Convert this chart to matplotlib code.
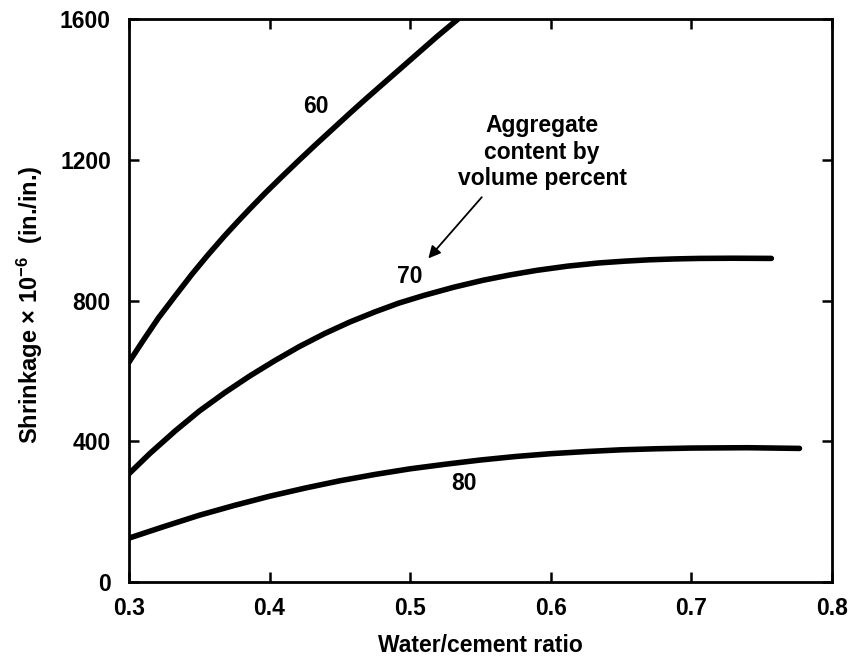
import matplotlib
matplotlib.use('Agg')
import matplotlib.pyplot as plt

# 字体设置
plt.rcParams['font.family'] = ['Liberation Sans', 'DejaVu Sans']
plt.rcParams['font.weight'] = 'bold'
plt.rcParams['axes.labelweight'] = 'bold'
plt.rcParams['mathtext.fontset'] = 'custom'
plt.rcParams['mathtext.rm'] = 'Liberation Sans:bold'
plt.rcParams['mathtext.it'] = 'Liberation Sans:italic:bold'
plt.rcParams['mathtext.bf'] = 'Liberation Sans:bold'

# 数据
wc_60 = [0.300, 0.310, 0.321, 0.333, 0.345, 0.356, 0.368, 0.377, 0.386, 0.397, 0.409,
         0.421, 0.433, 0.445, 0.457, 0.469, 0.481, 0.493, 0.505, 0.519, 0.534]
shr_60 = [625, 686, 751, 814, 876, 929, 984, 1023, 1061, 1106, 1153,
          1199, 1244, 1288, 1332, 1375, 1417, 1459, 1501, 1550, 1600]

wc_70 = [0.300, 0.315, 0.333, 0.350, 0.368, 0.386, 0.404, 0.421, 0.439, 0.457, 0.475,
         0.492, 0.510, 0.531, 0.552, 0.571, 0.590, 0.612, 0.634, 0.652, 0.670, 0.688,
         0.706, 0.730, 0.757]
shr_70 = [308, 366, 430, 486, 538, 586, 630, 669, 706, 739, 768,
          793, 815, 838, 858, 873, 886, 898, 907, 912, 916, 918.5,
          920, 920.5, 920]

wc_80 = [0.300, 0.325, 0.350, 0.375, 0.400, 0.425, 0.450, 0.475, 0.500, 0.525,
         0.550, 0.575, 0.600, 0.625, 0.650, 0.675, 0.700, 0.740, 0.777]
shr_80 = [125, 158, 190, 218, 244, 267, 288, 306, 322, 335,
          347, 357, 365, 371, 376, 379, 381, 382, 380]

curve_labels = ['60', '70', '80']
x_ticks = [0.3, 0.4, 0.5, 0.6, 0.7, 0.8]
y_ticks = [0, 400, 800, 1200, 1600]

fs = 16.5

fig = plt.figure(figsize=(8.54, 6.6), dpi=100)
ax = fig.add_axes([0.151, 0.118, 0.823, 0.853])

for xs, ys in [(wc_60, shr_60), (wc_70, shr_70), (wc_80, shr_80)]:
    ax.plot(xs, ys, color='black', linewidth=4.0, solid_capstyle='round',
            solid_joinstyle='round')

# 曲线标注
ax.text(0.433, 1352, curve_labels[0], fontsize=fs, ha='center', va='center')
ax.text(0.500, 869, curve_labels[1], fontsize=fs, ha='center', va='center')
ax.text(0.538, 281, curve_labels[2], fontsize=fs, ha='center', va='center')

ax.text(0.594, 1222, 'Aggregate\ncontent by\nvolume percent', fontsize=fs,
        ha='center', va='center', linespacing=1.2)
ax.annotate('', xy=(0.513, 920), xytext=(0.551, 1094),
            arrowprops=dict(arrowstyle='-|>', color='black', lw=1.3,
                            mutation_scale=18, shrinkA=0, shrinkB=0))

ax.set_xlim(0.3, 0.8)
ax.set_ylim(0, 1600)
ax.set_xticks(x_ticks)
ax.set_yticks(y_ticks)
ax.set_xticklabels([f'{v:.1f}' for v in x_ticks])
ax.tick_params(direction='in', length=7, width=1.8, top=True, right=True,
               labelsize=fs)
ax.tick_params(axis='x', pad=11)
ax.tick_params(axis='y', pad=13)
for sp in ax.spines.values():
    sp.set_linewidth(2.0)

ax.set_xlabel('Water/cement ratio', fontsize=fs)
ax.set_ylabel('Shrinkage \u00d7 10$^{-6}$  (in./in.)', fontsize=17)
ax.xaxis.set_label_coords(0.5, -0.112)
ax.yaxis.set_label_coords(-0.141, 0.492)
ax.xaxis.label.set_va('center')
ax.yaxis.label.set_va('center')

fig.savefig('out.png', dpi=100)
